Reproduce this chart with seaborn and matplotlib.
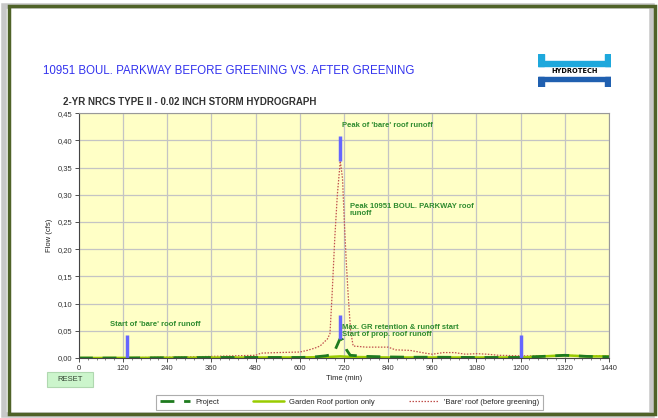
import matplotlib
matplotlib.use("Agg")
import matplotlib.pyplot as plt
import matplotlib.patches as mpatches
from matplotlib.lines import Line2D
from matplotlib.ticker import FuncFormatter, MultipleLocator
import seaborn as sns

# --- data (time in min, flow in cfs) ---
bare_t = [0, 120, 180, 240, 300, 360, 420, 480, 495, 540, 600, 620, 640, 655, 675, 682,
          688, 695, 702, 710, 716, 721, 726, 731, 738, 745, 780, 840, 860, 900, 940, 960,
          990, 1020, 1050, 1080, 1110, 1140, 1200, 1260, 1320, 1380, 1440]
bare_q = [0.0, 0.0005, 0.001, 0.0015, 0.002, 0.003, 0.004, 0.005, 0.009, 0.010, 0.011,
          0.014, 0.018, 0.022, 0.035, 0.045, 0.12, 0.22, 0.30, 0.362, 0.33, 0.25, 0.18,
          0.12, 0.05, 0.022, 0.020, 0.020, 0.015, 0.014, 0.009, 0.007, 0.010, 0.010,
          0.007, 0.008, 0.007, 0.005, 0.004, 0.004, 0.005, 0.004, 0.004]

proj_t = [0, 120, 240, 360, 480, 600, 640, 670, 682, 696, 709, 716, 727, 737, 780, 840,
          900, 960, 1080, 1200, 1260, 1320, 1380, 1440]
proj_q = [0.0, 0.0, 0.0005, 0.001, 0.001, 0.001, 0.002, 0.004, 0.0055, 0.015, 0.035,
          0.034, 0.015, 0.005, 0.003, 0.002, 0.0015, 0.0015, 0.001, 0.001, 0.003, 0.005,
          0.003, 0.002]

garden_t = [0, 240, 480, 600, 680, 710, 740, 840, 1080, 1200, 1260, 1320, 1380, 1440]
garden_q = [0.0, 0.0005, 0.001, 0.001, 0.002, 0.003, 0.002, 0.001, 0.001, 0.001, 0.003,
            0.005, 0.003, 0.003]

# vertical marker bars: time, bottom, top
marker_t = [130, 709, 709, 1200]
marker_lo = [0.0, 0.362, 0.035, 0.0]
marker_hi = [0.042, 0.408, 0.079, 0.042]

notes = ["Start of 'bare' roof runoff", "Peak of 'bare' roof runoff",
         "Peak 10951 BOUL. PARKWAY roof\nrunoff",
         "Max. GR retention & runoff start\nStart of prop. roof runoff"]
note_t = [84, 714, 736, 716]
note_q = [0.062, 0.428, 0.272, 0.050]

x_ticks = list(range(0, 1441, 120))
y_ticks = [0.0, 0.05, 0.10, 0.15, 0.20, 0.25, 0.30, 0.35, 0.40, 0.45]

sns.set_theme(style="whitegrid")
plt.rcParams['font.family'] = ['Liberation Sans', 'DejaVu Sans']

fig = plt.figure(figsize=(6.58, 4.18), dpi=100)
fig.patch.set_facecolor("white")

# outer frame with soft shadow
fig.add_artist(mpatches.Rectangle((0.006, 0.008), 0.985, 0.978, transform=fig.transFigure,
                                  fill=False, edgecolor="#c8c8c8", lw=4))
fig.add_artist(mpatches.Rectangle((0.014, 0.010), 0.982, 0.975, transform=fig.transFigure,
                                  fill=False, edgecolor="#4f6228", lw=2.5))

ax = fig.add_axes([0.120, 0.1435, 0.8055, 0.586])
ax.set_facecolor("#ffffc6")

sns.lineplot(x=bare_t, y=bare_q, ax=ax, color="#c0504d", lw=0.9, linestyle=(0, (1.2, 1.2)))
sns.lineplot(x=garden_t, y=garden_q, ax=ax, color="#99cc00", lw=1.8)
sns.lineplot(x=proj_t, y=proj_q, ax=ax, color="#1e7b1e", lw=2.0, linestyle=(0, (5, 3.5)))

ax.vlines(marker_t, marker_lo, marker_hi, color="#6666ff", lw=2.5)

for txt, t, q in zip(notes, note_t, note_q):
    ax.text(t, q, txt, fontsize=5.5, fontweight="bold", color="#2e8b2e",
            ha="left", va="center", linespacing=1.0)

ax.set_xlim(0, 1440)
ax.set_ylim(0, 0.45)
ax.set_xticks(x_ticks)
ax.set_yticks(y_ticks)
ax.xaxis.set_minor_locator(MultipleLocator(24))
ax.yaxis.set_major_formatter(FuncFormatter(lambda v, p: f"{v:.2f}".replace(".", ",")))
ax.grid(True, color="#c4c4c4", lw=0.9)
ax.tick_params(axis="both", which="major", labelsize=5.5, length=3, width=0.6,
               colors="#333333", direction="out", bottom=True, left=True, pad=2)
ax.tick_params(axis="x", which="minor", length=1.5, width=0.5, color="#555555", bottom=True)
for s in ["top", "right"]:
    ax.spines[s].set_color("#999999")
    ax.spines[s].set_linewidth(0.8)
for s in ["left", "bottom"]:
    ax.spines[s].set_color("#444444")
    ax.spines[s].set_linewidth(0.8)
ax.set_xlabel("Time (min)", fontsize=5.5, color="#222222", labelpad=2)
ax.set_ylabel("Flow (cfs)", fontsize=5.5, color="#222222", labelpad=3)

# titles
fig.text(0.065, 0.829, "10951 BOUL. PARKWAY BEFORE GREENING VS. AFTER GREENING",
         fontsize=8.3, color="#3333ee", ha="left", va="center")
fig.text(0.096, 0.757, "2-YR NRCS TYPE II - 0.02 INCH STORM HYDROGRAPH",
         fontsize=7, fontweight="bold", color="#333333", ha="left", va="center")

# logo
lg = fig.add_axes([0.818, 0.792, 0.110, 0.078])
lg.set_xlim(0, 72)
lg.set_ylim(0, 32)
lg.axis("off")
cyan = "#1ea8dc"
blue = "#2060b0"
lg.add_patch(mpatches.Rectangle((0, 21), 72, 4, color=cyan))
lg.add_patch(mpatches.Rectangle((0, 21), 6, 11, color=cyan))
lg.add_patch(mpatches.Rectangle((66, 21), 6, 11, color=cyan))
lg.add_patch(mpatches.Rectangle((0, 6), 72, 4, color=blue))
lg.add_patch(mpatches.Rectangle((0, 0), 6, 10, color=blue))
lg.add_patch(mpatches.Rectangle((66, 0), 6, 10, color=blue))
lg.text(36, 15.5, "HYDROTECH", fontsize=4.8, fontweight="bold", color="black",
        ha="center", va="center", family=["DejaVu Sans"])

# reset button
fig.add_artist(mpatches.Rectangle((0.072, 0.075), 0.069, 0.036, transform=fig.transFigure,
                                  facecolor="#ccf5cc", edgecolor="#b0d8b0", lw=0.8))
fig.text(0.1065, 0.093, "RESET", fontsize=5.5, color="#334433", ha="center", va="center")

# legend
handles = [Line2D([], [], color="#1e7b1e", lw=2.0, linestyle=(0, (5, 3.5))),
           Line2D([], [], color="#99cc00", lw=1.8),
           Line2D([], [], color="#c0504d", lw=0.9, linestyle=(0, (1.2, 1.2)))]
labels = ["Project", "Garden Roof portion only", "'Bare' roof (before greening)"]
leg = fig.legend(handles, labels, loc="center", bbox_to_anchor=(0.531, 0.038), ncol=3,
                 fontsize=5.5, frameon=True, fancybox=False, edgecolor="#999999",
                 handlelength=4, columnspacing=4.5, borderpad=0.5, handletextpad=0.6)
leg.get_frame().set_linewidth(0.8)

fig.savefig("out.png", dpi=100)
